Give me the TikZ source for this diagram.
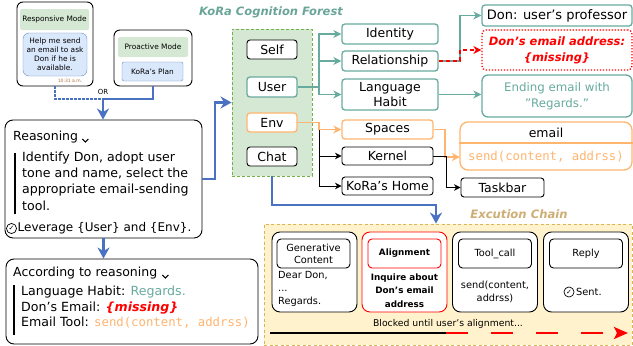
\documentclass[tikz,border=0pt]{standalone}
\usepackage{fontspec}
\setmainfont{DejaVu Sans}
\setmonofont{DejaVu Sans Mono}
\usetikzlibrary{arrows.meta}
\definecolor{teal1}{HTML}{67AB9F}
\definecolor{teal2}{HTML}{6AA597}
\definecolor{org}{HTML}{FFB570}
\definecolor{blu}{HTML}{4A72C0}
\definecolor{grn}{HTML}{D5E8D4}
\definecolor{grnbd}{HTML}{72B04A}
\definecolor{bfill}{HTML}{DAE8FC}
\definecolor{bbd}{HTML}{6C8EBF}
\definecolor{yfill}{HTML}{FFF2CC}
\definecolor{ybd}{HTML}{D6B656}
\definecolor{tan1}{HTML}{CDAE74}
\definecolor{brn}{HTML}{B07040}
\newcommand\fsz[2]{\fontsize{#1}{#2}\selectfont}
\begin{document}
\begin{tikzpicture}[x=1pt,y=-1pt,
  box/.style={draw, rounded corners=3pt, fill=white, align=center, inner sep=0pt, line width=0.9pt},
  tbox/.style={box, draw=teal1, line width=1.3pt},
  obox/.style={box, draw=org, line width=1.3pt},
  fnode/.style={font=\fsz{12.5}{14}, minimum width=50},
  l2/.style={font=\fsz{12.5}{14}},
  hdr/.style={fill=grn, rounded corners=2pt, inner sep=0pt, font=\fsz{7.4}{9}},
  card/.style={box, rounded corners=8pt, minimum width=85, minimum height=80},
  chdr/.style={box, rounded corners=4pt, minimum width=73, minimum height=29, font=\fsz{9.8}{12}},
  tarr/.style={draw=teal1, line width=1.3pt, -{Stealth[length=8pt,width=8pt,inset=2.5pt]}},
  oarr/.style={draw=org, line width=1.3pt, -{Stealth[length=8pt,width=8pt,inset=2.5pt]}},
  karr/.style={draw=black, line width=0.9pt, -{Stealth[length=6.5pt,width=6.5pt,inset=2pt]}},
  rarr/.style={draw=red, line width=1.3pt, dash pattern=on 4pt off 3pt, -{Stealth[length=8pt,width=8pt,inset=2.5pt]}},
  barr/.style={draw=blu, line width=2.6pt, -{Stealth[length=11pt,width=12pt,inset=3.5pt]}},
  chk/.style={circle, draw, line width=0.7pt, inner sep=1pt, font=\fsz{7}{7}}
]
\useasboundingbox (0,0) rectangle (633,346);

% ---------------- input modes ----------------
\node[box, rounded corners=6pt, minimum width=76, minimum height=84] (resp) at (55,44) {};
\node[hdr, minimum width=69, minimum height=21] (resphead) at (54.5,19.5) {Responsive Mode};
\node[draw=bbd, fill=bfill, rounded corners=6pt, minimum width=64, minimum height=43, align=center, inner sep=0pt, font=\fsz{7.4}{9}] (respmsg) at (55,54.5) {Help me send\\an email to ask\\Don if he is\\available.};
\node[font=\fsz{4.5}{5}, text=brn, inner sep=0pt] (time) at (70,80.5) {10:31 a.m.};

\node[box, rounded corners=6pt, minimum width=78, minimum height=56] (pro) at (153,58) {};
\node[hdr, minimum width=70, minimum height=20] (prohead) at (153,47) {Proactive Mode};
\node[draw=bbd, fill=bfill, rounded corners=2pt, minimum width=61, minimum height=19, inner sep=0pt, font=\fsz{7.4}{9}] (plan) at (152.5,71.5) {KoRa's Plan};

\node[font=\fsz{7}{8}, inner sep=0pt] (ortxt) at (103,92) {OR};
\coordinate (orj) at (103,99);

% ---------------- reasoning ----------------
\node[box, rounded corners=8pt, minimum width=197, minimum height=118] (reason) at (103.5,179) {};
\node[anchor=west, font=\fsz{12.5}{15}, inner sep=0pt] (rtitle) at (13,137) {Reasoning};
\draw[line width=1.1pt] ([xshift=4pt,yshift=-2pt]rtitle.east) -- ++(3,3) -- ++(3,-3);
\draw[line width=2.5pt] (15,153) -- (15,214);
\node[anchor=north west, align=left, font=\fsz{12.6}{16.3}, inner sep=0pt] (rbody) at (22,151.5) {Identify Don, adopt user\\tone and name, select the\\appropriate email-sending\\tool.};
\node[chk] (rchk) at (11.5,228.5) {✓};
\node[anchor=west, font=\fsz{12}{15}, inner sep=0pt] (rlev) at (17.5,228.5) {Leverage \{User\} and \{Env\}.};

% ---------------- according ----------------
\node[box, rounded corners=8pt, minimum width=252, minimum height=85] (accord) at (132,301.5) {};
\node[anchor=west, font=\fsz{12.5}{15}, inner sep=0pt] (atitle) at (13,273) {According to reasoning};
\draw[line width=1.1pt] ([xshift=5pt,yshift=-2pt]atitle.east) -- ++(3,3) -- ++(3,-3);
\draw[line width=2.5pt] (14,285) -- (14,335);
\node[anchor=north west, align=left, font=\fsz{12.6}{15.5}, inner sep=0pt] (abody) at (21,286) {Language Habit: \textcolor{teal1}{Regards.}\\Don's Email: \textcolor{red}{\bfseries\itshape\{missing\}}\\Email Tool: \textcolor{org}{\ttfamily\fsz{12.3}{15.5}send(content, addrss)}};

% ---------------- forest ----------------
\node[font=\fsz{11.5}{13}\bfseries\itshape, text=teal2] (ftitle) at (271,12) {KoRa Cognition Forest};
\node[draw=grnbd, fill=grn, line width=0.9pt, dash pattern=on 3pt off 2pt, minimum width=80, minimum height=147] (forest) at (272,102.5) {};
\node[box, fnode, minimum height=19] (self) at (272,49.5) {Self};
\node[box, fnode, draw=teal1, line width=1.3pt, minimum height=20] (user) at (272,87) {User};
\node[box, fnode, draw=org, line width=1.3pt, minimum height=19] (env) at (272,122.5) {Env};
\node[box, fnode, minimum height=19] (chat) at (272,156.5) {Chat};

\node[tbox, l2, minimum width=96, minimum height=20] (ident) at (390,34) {Identity};
\node[tbox, l2, minimum width=96, minimum height=20] (rel) at (390,61) {Relationship};
\node[tbox, l2, minimum width=96, minimum height=31, font=\fsz{12.5}{14.5}] (lh) at (390,94.5) {Language\\Habit};
\node[obox, l2, minimum width=91, minimum height=19] (spaces) at (387.5,129.5) {Spaces};
\node[box, l2, minimum width=91, minimum height=18] (kernel) at (387.5,156) {Kernel};
\node[box, l2, minimum width=91, minimum height=18] (home) at (387.5,186) {KoRa's Home};

\node[tbox, minimum width=150, minimum height=21, font=\fsz{13}{15}] (don) at (557,15.5) {Don: user's professor};
\node[box, draw=red, line width=1.3pt, dash pattern=on 1.3pt off 1.7pt, rounded corners=4pt, minimum width=150, minimum height=40, text=red, font=\fsz{11.5}{16}\bfseries\itshape] (missing) at (557,50) {Don's email address:\\\{missing\}};
\node[tbox, rounded corners=6pt, minimum width=150, minimum height=42, text=teal1, font=\fsz{11.8}{16}] (ending) at (557,96) {Ending email with\\"Regards."};

\node[obox, rounded corners=8pt, minimum width=172, minimum height=48] (email) at (546,146) {};
\node[font=\fsz{12.5}{14}, inner sep=0pt] (ehead) at (546,132.5) {email};
\draw[org, line width=1.3pt] (email.west |- 0,143) -- (email.east |- 0,143);
\node[minimum width=172, inner sep=0pt, text=org, font=\ttfamily\fsz{12.3}{14}] (ebody) at (546,157) {send(content, addrss)};
\node[box, l2, minimum width=83, minimum height=19] (taskbar) at (502.5,187.5) {Taskbar};

% ---------------- execution chain ----------------
\node[font=\fsz{11.6}{13}\bfseries\itshape, text=tan1] (etitle) at (519,214) {Excution Chain};
\node[draw=ybd, fill=yfill, line width=0.9pt, dash pattern=on 3pt off 2.5pt, minimum width=368, minimum height=121] (exec) at (448,284.5) {};

\node[card] (c1) at (314.5,272) {};
\node[chdr] (h1) at (313.5,253.5) {Generative\\Content};
\node[anchor=north west, align=left, font=\fsz{9.8}{13}, inner sep=0pt] (b1) at (278,271) {Dear Don,\\...\\Regards.};

\node[card, draw=red] (c2) at (404.5,272) {};
\node[chdr, draw=red, font=\fsz{8.8}{12}\bfseries] (h2) at (404.5,253.5) {Alignment};
\node[align=center, font=\fsz{8.8}{13.5}\bfseries, inner sep=0pt] (b2) at (404.5,290.5) {Inquire about\\Don's email\\address};

\node[card] (c3) at (495,272) {};
\node[chdr] (h3) at (495,253.5) {Tool\_call};
\node[align=center, font=\fsz{9.8}{13}, inner sep=0pt] (b3) at (495,291.5) {send(content,\\addrss)};

\node[card] (c4) at (586,272) {};
\node[chdr] (h4) at (586,253.5) {Reply};
\node[chk] (c4chk) at (569,292) {✓};
\node[anchor=west, font=\fsz{9.8}{12}, inner sep=0pt] (sent) at (576,292) {Sent.};

\node[font=\fsz{9.3}{10}, inner sep=0pt] (blk) at (448,324) {Blocked until user's alignment...};
\coordinate (l0) at (270,333);
\coordinate (l1) at (446,333);
\coordinate (l2) at (628,333);
\draw[line width=2.4pt] (l0) -- (l1);
\draw[red, line width=2.4pt, dash pattern=on 22pt off 23pt, -{Stealth[length=14pt,width=12pt,inset=3pt]}] (l1) -- (l2);

% ---------------- connectors ----------------
\draw[draw=blu, line width=2.6pt, dash pattern=on 2.5pt off 1.5pt] (resp.south) |- (orj);
\draw[barr] (pro.south) |- (orj) -- (reason.north -| orj);
\draw[barr] (reason.south) -- (reason.south |- accord.north);
\coordinate (rf) at (215,179);
\draw[barr] (reason.east |- rf) -- (rf) |- (forest.west);
\coordinate (ce) at (436,205);
\draw[barr] (chat.south |- forest.south) |- (ce) -- (exec.north -| ce);

\coordinate (ut) at (319,87);
\draw[tarr] (user.east) -- (ut) |- (ident.west);
\draw[tarr] (ut) |- (rel.west);
\draw[tarr] (ut) |- (lh.west);

\coordinate (kt) at (319,130);
\draw[karr] (kt) |- (kernel.west);
\draw[karr] (kt) |- (home.west);
\coordinate (et) at (319,122.5);
\draw[oarr] (env.east) -- (et) |- (spaces.west);

\coordinate (rt) at (460,61);
\draw[tarr] (rel.east) -- (rt) |- (don.west);
\draw[rarr] (rel.east) -- (rt) |- (missing.west);
\draw[tarr] (lh.east) -- (lh.east -| ending.west);

\coordinate (st) at (445,129.5);
\draw[oarr] (spaces.east) -- (st) |- (ebody.west);
\coordinate (kt2) at (446,156);
\draw[karr] (kernel.east) -- (kt2) |- (taskbar.west);
\end{tikzpicture}
\end{document}
